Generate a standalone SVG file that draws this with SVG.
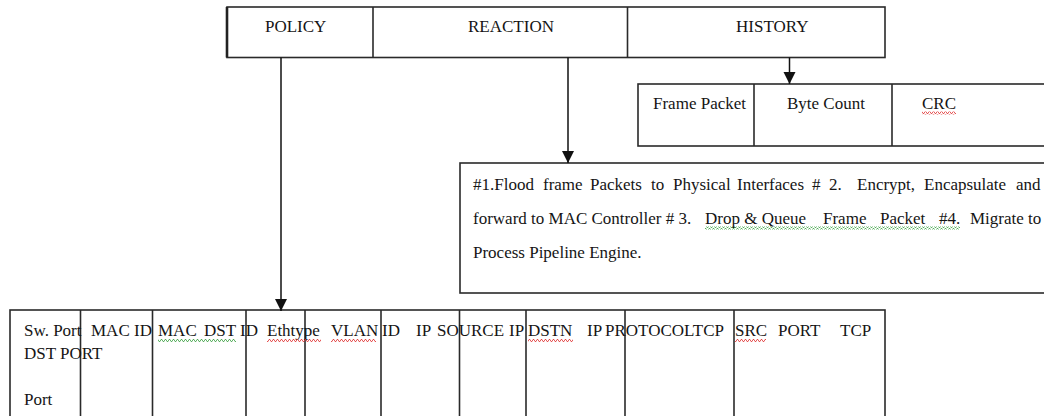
<svg xmlns="http://www.w3.org/2000/svg" width="1044" height="416" viewBox="0 0 1044 416">
  <style>
    .box { fill: #fff; stroke: #2a2a2a; stroke-width: 1.6; }
    .div { stroke: #2a2a2a; stroke-width: 1.6; fill: none; }
    .t { font-family: "Liberation Serif", "Times New Roman", serif; font-size: 17px; fill: #151515; }
    .conn { stroke: #111; stroke-width: 1.5; fill: none; }
  </style>
  <defs>
    <marker id="arrow" markerUnits="userSpaceOnUse" markerWidth="12" markerHeight="14" refX="12" refY="6" orient="auto">
      <path d="M0,0 L12,6 L0,12 Z" fill="#111"/>
    </marker>
    <!-- spell-check style wavy underlines -->
    <pattern id="wavyRed" width="4" height="3" patternUnits="userSpaceOnUse">
      <path d="M0,2.5 L1,0.5 L2,0.5 L3,2.5 L4,2.5" stroke="#e03030" stroke-width="0.8" fill="none"/>
    </pattern>
    <pattern id="wavyGreen" width="4" height="3" patternUnits="userSpaceOnUse">
      <path d="M0,2.5 L1,0.5 L2,0.5 L3,2.5 L4,2.5" stroke="#3aa040" stroke-width="0.8" fill="none"/>
    </pattern>
  </defs>

  <rect width="1044" height="416" fill="#fff"/>

  <!-- top row: POLICY / REACTION / HISTORY -->
  <g id="top-table">
    <rect class="box" x="227" y="7" width="658" height="50.5"/>
    <line x1="227" y1="7" x2="227" y2="57.5" stroke="#222" stroke-width="2.6"/>
    <line class="div" x1="373" y1="7" x2="373" y2="57.5"/>
    <line class="div" x1="627.5" y1="7" x2="627.5" y2="57.5"/>
    <text class="t" x="265" y="31.5">POLICY</text>
    <text class="t" x="468" y="31.5">REACTION</text>
    <text class="t" x="736" y="31.5">HISTORY</text>
  </g>

  <!-- history fields -->
  <g id="history-table">
    <rect class="box" x="638" y="84" width="420" height="62"/>
    <line class="div" x1="754" y1="84" x2="754" y2="146"/>
    <line class="div" x1="892" y1="84" x2="892" y2="146"/>
    <text class="t" x="653" y="109">Frame Packet</text>
    <text class="t" x="787" y="109">Byte Count</text>
    <text class="t" x="922" y="109">CRC</text>
    <rect x="922" y="111.5" width="34" height="3" fill="url(#wavyRed)"/>
  </g>

  <!-- reaction actions -->
  <g id="reaction-box">
    <rect class="box" x="460" y="163" width="600" height="130"/>
    <text class="t" y="189.5">
      <tspan x="473">#1.Flood</tspan>
      <tspan x="543">frame</tspan>
      <tspan x="590">Packets</tspan>
      <tspan x="651">to</tspan>
      <tspan x="673">Physical</tspan>
      <tspan x="737">Interfaces</tspan>
      <tspan x="812">#</tspan>
      <tspan x="829">2.</tspan>
      <tspan x="857">Encrypt,</tspan>
      <tspan x="924">Encapsulate</tspan>
      <tspan x="1016">and</tspan>
    </text>
    <text class="t" y="224">
      <tspan x="473">forward to MAC Controller # 3.</tspan>
      <tspan x="705">Drop &amp; Queue</tspan>
      <tspan x="823">Frame</tspan>
      <tspan x="880">Packet</tspan>
      <tspan x="939">#4.</tspan>
      <tspan x="970">Migrate to</tspan>
    </text>
    <text class="t" x="473" y="258">Process Pipeline Engine.</text>
    <rect x="705" y="226.5" width="255" height="3" fill="url(#wavyGreen)"/>
  </g>

  <!-- policy match fields -->
  <g id="policy-table">
    <rect class="box" x="10" y="310" width="875" height="120"/>
    <line class="div" x1="80.5" y1="310" x2="80.5" y2="420"/>
    <line class="div" x1="152.5" y1="310" x2="152.5" y2="420"/>
    <line class="div" x1="246" y1="310" x2="246" y2="420"/>
    <line class="div" x1="305" y1="310" x2="305" y2="420"/>
    <line class="div" x1="381" y1="310" x2="381" y2="420"/>
    <line class="div" x1="459.5" y1="310" x2="459.5" y2="420"/>
    <line class="div" x1="526" y1="310" x2="526" y2="420"/>
    <line class="div" x1="625" y1="310" x2="625" y2="420"/>
    <line class="div" x1="734" y1="310" x2="734" y2="420"/>
    <text class="t" y="336">
      <tspan x="24">Sw. Port</tspan>
      <tspan x="91">MAC ID</tspan>
      <tspan x="158">MAC</tspan>
      <tspan x="204">DST</tspan>
      <tspan x="240">ID</tspan>
      <tspan x="267">Ethtype</tspan>
      <tspan x="331">VLAN</tspan>
      <tspan x="382">ID</tspan>
      <tspan x="416">IP</tspan>
      <tspan x="437">SOURCE</tspan>
      <tspan x="509">IP</tspan>
      <tspan x="528">DSTN</tspan>
      <tspan x="587">IP</tspan>
      <tspan x="605">PROTOCOLTCP</tspan>
      <tspan x="735">SRC</tspan>
      <tspan x="778">PORT</tspan>
      <tspan x="840">TCP</tspan>
    </text>
    <text class="t" x="24" y="359">DST PORT</text>
    <text class="t" x="24" y="405">Port</text>
    <rect x="158" y="339" width="78" height="3" fill="url(#wavyGreen)"/>
    <rect x="267" y="339" width="54" height="3" fill="url(#wavyRed)"/>
    <rect x="331" y="339" width="45" height="3" fill="url(#wavyRed)"/>
    <rect x="528" y="339" width="45" height="3" fill="url(#wavyRed)"/>
    <rect x="735" y="339" width="31" height="3" fill="url(#wavyRed)"/>
  </g>

  <!-- connectors -->
  <g id="connectors">
    <line class="conn" x1="281" y1="57.5" x2="281" y2="311" marker-end="url(#arrow)"/>
    <line class="conn" x1="568" y1="57.5" x2="568" y2="163" marker-end="url(#arrow)"/>
    <line class="conn" x1="789.5" y1="57.5" x2="789.5" y2="84" marker-end="url(#arrow)"/>
  </g>
</svg>
